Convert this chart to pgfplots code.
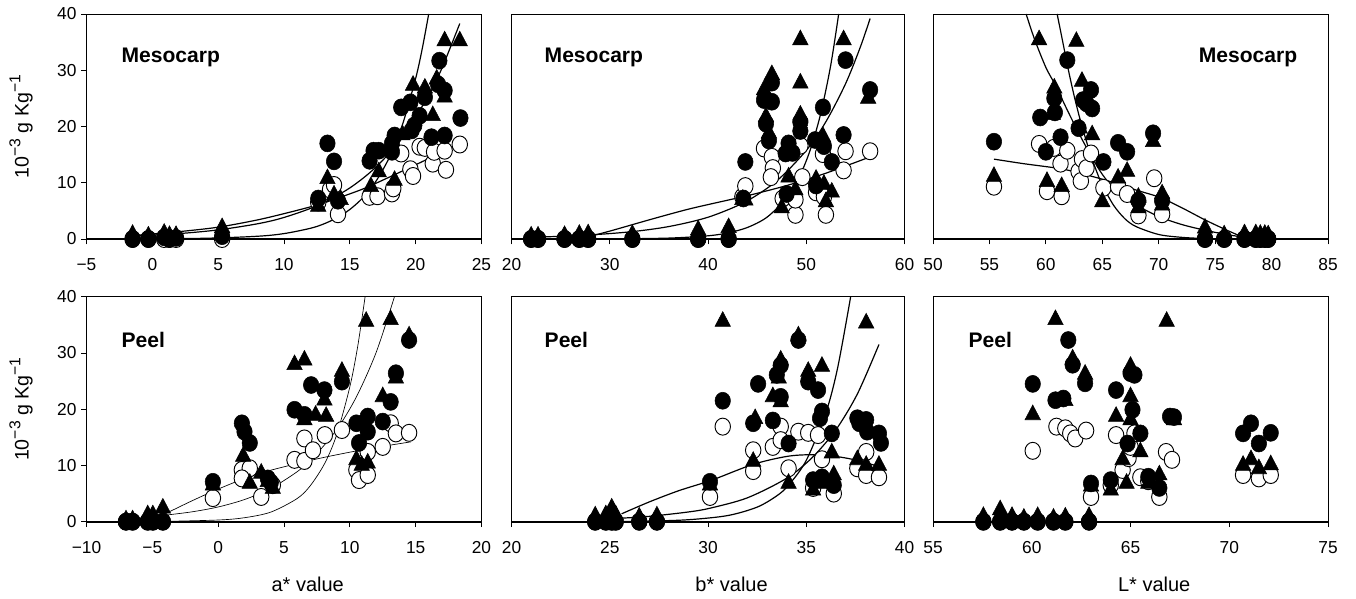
\documentclass[border=0pt]{standalone}
\usepackage{fontspec}
\setmainfont{Liberation Sans}
\usepackage{pgfplots}
\pgfplotsset{compat=1.18}

\newcommand{\sups}[1]{\raisebox{0.42em}{\fontsize{11.8}{12}\selectfont #1}}
\pgfplotsset{
  panel/.style={
    scale only axis, height=168.75pt, ymin=0, ymax=40,
    clip=false,
    axis line style={black, line width=0.6pt},
    tick align=outside, xtick pos=left, ytick pos=left,
    major tick length=4pt, tick style={black, line width=0.6pt},
    ticklabel style={font=\fontsize{13}{15}\selectfont},
    /pgf/number format/assume math mode=true,
    xticklabel style={yshift=-7pt},
    ytick=\empty,
    xlabel style={at={(axis description cs:0.56,-0.28)}, anchor=center, font=\fontsize{15}{17}\selectfont},
  },
  firstcol/.style={
    ytick={0,10,20,30,40}, yticklabels={0,10,20,30,40},
    ylabel={10\sups{−3} g Kg\sups{−1}},
    ylabel style={at={(axis description cs:-0.166,0.5)}, anchor=center, font=\fontsize{14.7}{16}\selectfont},
  },
  opn/.style={only marks, mark=*, mark size=5.8pt, mark options={fill=white, draw=black, line width=0.7pt, yscale=1.1}},
  fil/.style={only marks, mark=*, mark size=5.8pt, mark options={fill=black, draw=black, yscale=1.1}},
  tri/.style={only marks, mark=triangle*, mark size=6.7pt, mark options={fill=black, draw=black, yscale=1.1}},
  fit/.style={no marks, smooth, black, line width=0.9pt},
}
\newcommand{\paneltitle}[3]{\node[anchor=#3, font=\bfseries\fontsize{15.8}{17}\selectfont] at (rel axis cs:#1,0.809) {#2};}
\newcommand{\zeroline}{\draw[black, line width=1.6pt] (rel axis cs:0,0) -- (rel axis cs:1,0);}

\begin{document}
\begin{tikzpicture}
\path (0,0) rectangle (1017pt,-449.25pt);

% ---------- top row: mesocarp ----------
\begin{axis}[panel, firstcol, at={(64.875pt,-179.25pt)}, anchor=south west, width=296.25pt,
  xmin=-5, xmax=25, xtick={-5,0,5,10,15,20,25}, xticklabels={−5,0,5,10,15,20,25}]
\addplot[opn] coordinates {(-1.5,0)(-0.3,0)(0.9,0)(1.3,0)(1.8,0)(5.3,0)
 (12.6,6.5)(13.5,8.8)(13.8,9.6)(14.1,4.4)(16.5,7.5)(17.1,7.6)(18.2,8.1)(18.3,9.0)(18.9,15.2)
 (19.6,12.4)(19.8,11.2)(20.3,16.4)(20.7,16.2)(21.3,13.4)(21.4,15.5)(22.2,15.7)(22.3,12.3)(23.35,16.8)};
\addplot[fil] coordinates {(-1.5,0)(-0.3,0)(0.9,0.3)(1.3,0)(1.8,0.2)(5.3,0.5)
 (12.6,7.2)(13.3,17.0)(13.8,13.8)(14.1,6.8)(16.5,13.9)(16.8,15.7)(17.2,15.7)(18.2,15.5)(18.2,17.0)(18.4,18.4)
 (18.9,23.4)(19.6,24.3)(19.7,19.3)(19.9,20.2)(20.3,21.9)(20.7,25.2)(21.2,18.1)(21.7,27.5)(21.8,31.7)(22.2,18.4)(22.2,26.4)(23.4,21.5)};
\addplot[tri] coordinates {(-1.5,0.8)(-0.3,0.5)(0.9,1.0)(1.3,0.6)(1.8,0.6)(5.3,2.0)
 (12.6,5.8)(13.3,10.7)(13.8,7.8)(14.3,7.0)(16.6,9.3)(17.2,11.9)(18.4,10.4)(19.0,18.5)(19.8,27.3)
 (20.7,26.8)(21.3,21.9)(21.6,28.4)(22.2,25.2)(22.2,35.2)(23.35,35.2)};
\addplot[fit] coordinates {(-1.5,0.02)(4,0.13)(8,0.49)(10,0.96)(12,1.90)(13,2.66)(14,3.74)(15,5.25)(16,7.36)(17,10.33)(18,14.5)(19,20.35)(20,28.56)(20.5,33.84)(20.99,40)};
\addplot[fit] coordinates {(-1.5,0.53)(2,0.96)(5,1.62)(8,2.71)(10,3.83)(12.6,6)(15,9.08)(17,12.82)(19,18.1)(21,25.6)(22,30.4)(23.35,38.3)};
\addplot[fit] coordinates {(-1.5,0.6)(0,0.9)(2,1.3)(5,2.1)(8,3.4)(10.5,4.8)(12.6,6.1)(14,7.2)(16,8.9)(18,11.0)(20,13.2)(22,15.4)(23.35,16.8)};
\zeroline
\paneltitle{0.077}{Mesocarp}{west}
\end{axis}

\begin{axis}[panel, at={(383.625pt,-179.25pt)}, anchor=south west, width=294.75pt,
  xmin=20, xmax=60, xtick={20,30,40,50,60}, xticklabels={20,30,40,50,60}]
\addplot[opn] coordinates {(22.0,0)(22.7,0)(25.4,0)(26.9,0)(27.8,0)(32.3,0)(39.0,0)(42.1,0)
 (43.5,7.5)(43.8,9.4)(45.7,16.1)(46.5,14.6)(46.6,12.6)(46.4,11.0)(47.6,7.2)(48.9,4.3)(48.9,7.0)(49.4,16.6)(49.6,11.0)
 (51.0,8.3)(51.7,15.1)(51.8,7.5)(52.0,4.3)(54.0,15.6)(53.8,12.2)(56.5,15.6)};
\addplot[fil] coordinates {(22.0,0)(22.7,0)(25.4,0)(26.9,0)(27.8,0)(32.3,0)(39.0,0)(42.1,0)
 (43.8,13.7)(43.6,7.2)(45.7,24.7)(46.5,27.8)(46.5,24.4)(45.9,20.5)(46.2,17.5)(48.2,17.0)(47.9,15.2)(48.6,15.3)(49.4,20.8)(49.4,19.2)(48.0,8.0)
 (51.7,23.4)(50.9,17.6)(51.8,16.5)(52.6,13.7)(51.0,9.5)(54.0,31.8)(53.8,18.5)(56.5,26.5)};
\addplot[tri] coordinates {(22.0,0.5)(22.7,0.5)(25.4,0.6)(26.9,0.8)(27.8,0.9)(32.3,0.8)(39.0,1.6)(42.1,2.0)
 (43.8,6.9)(43.5,7.0)(45.7,26.5)(46.5,29.2)(45.9,21.7)(46.2,18.8)(48.2,11.0)(47.5,5.5)(48.9,8.7)
 (49.4,35.4)(49.4,27.7)(49.4,22.0)(51.7,18.2)(51.0,10.6)(51.8,9.7)(52.6,8.3)(52.0,6.6)(53.8,35.4)(56.3,25.0)};
\addplot[fit] coordinates {(22,0)(30,0.02)(36,0.16)(40,0.57)(42,1.08)(44,2.04)(46,3.87)(48,7.34)(49.5,11.86)(50.5,16.33)(51.5,22.5)(52.5,30.97)(53.3,40)};
\addplot[fit] coordinates {(22,0.31)(27,0.62)(32,1.26)(36,2.21)(40,3.87)(43.8,6.6)(47,10.34)(50,15.75)(52,20.85)(54,27.6)(55.5,34.1)(56.5,39.2)};
\addplot[fit] coordinates {(26.9,0.0)(30,1.4)(34,3.4)(38,5.3)(42,6.9)(43.8,7.6)(48,9.5)(52,11.7)(56.5,14.6)};
\zeroline
\paneltitle{0.0725}{Mesocarp}{west}
\end{axis}

\begin{axis}[panel, at={(699.75pt,-179.25pt)}, anchor=south west, width=296.25pt,
  xmin=50, xmax=85, xtick={50,55,60,65,70,75,80,85}, xticklabels={50,55,60,65,70,75,80,85}]
\addplot[opn] coordinates {(55.4,9.3)(59.4,16.9)(60.1,8.5)(60.7,16.2)(61.3,13.4)(61.4,7.6)(61.9,15.7)
 (62.9,12.0)(63.1,10.3)(63.2,14.2)(63.6,12.6)(64.0,15.2)(65.1,9.1)(66.4,9.3)(67.2,8.0)(68.2,4.2)(69.6,10.8)(70.3,4.4)
 (74.1,0)(75.8,0)(77.6,0)(78.6,0)(79.0,0)(79.4,0)(79.7,0)};
\addplot[fil] coordinates {(55.4,17.3)(59.5,21.6)(60.0,15.5)(60.75,25.0)(60.8,22.5)(61.3,18.1)(61.9,31.8)
 (62.9,19.7)(63.6,24.1)(64.0,26.5)(64.1,23.2)(63.3,24.7)(65.1,13.7)(66.4,17.1)(67.2,15.5)(68.2,6.8)(69.5,18.8)(70.3,6.8)
 (74.1,0)(75.8,0)(77.6,0)(78.6,0)(79.0,0)(79.4,0)(79.7,0)};
\addplot[tri] coordinates {(55.4,11.1)(59.4,35.4)(60.1,10.2)(60.75,26.8)(60.6,22.1)(61.4,9.3)(62.7,35.1)(63.2,28.0)
 (63.0,19.7)(64.1,18.5)(65.0,6.6)(66.4,10.8)(67.2,12.0)(68.2,7.4)(68.2,5.5)(69.5,17.3)(70.3,8.0)(70.3,6.0)
 (74.1,1.9)(75.8,0.7)(77.6,0.9)(78.6,0.9)(79.0,0.8)(79.4,0.8)(79.7,0.7)};
\addplot[fit] coordinates {(58.25,40)(59,35.5)(60,30.5)(60.8,27.5)(62,22.5)(63,18.5)(64,14.8)(65,11.5)(66,9.0)(67,7.3)(68,6.0)(70,4.0)(72,2.6)(74,1.6)(76,0.8)(77.6,0.3)};
\addplot[fit] coordinates {(61,40)(61.5,35)(62,30)(62.5,25.5)(63,21.5)(63.5,18)(64,14.8)(64.5,12)(65,9.6)(66,6.0)(67,3.6)(68,2.2)(70,0.8)(72,0.3)(74,0.1)(77.6,0.0)};
\addplot[fit] coordinates {(55.4,14.2)(58,13.4)(61.3,12.5)(63,11.7)(65.4,10.4)(68,8.7)(70.1,7.4)(72,5.6)(74.1,3.4)(76,1.6)(77.6,0.2)};
\zeroline
\paneltitle{0.934}{Mesocarp}{east}
\end{axis}

% ---------- bottom row: peel ----------
\begin{axis}[panel, firstcol, at={(64.875pt,-391.275pt)}, anchor=south west, width=296.25pt,
  xmin=-10, xmax=20, xtick={-10,-5,0,5,10,15,20}, xticklabels={−10,−5,0,5,10,15,20}, xlabel={a* value}]
\addplot[opn] coordinates {(-7.0,0)(-6.5,0)(-5.35,0)(-4.96,0)(-4.2,0)
 (-0.4,4.2)(1.8,9.2)(2.4,9.5)(1.8,7.7)(3.27,4.4)(4.15,6.5)(6.55,14.8)(5.8,11.0)(6.55,10.8)(7.2,12.7)(8.1,15.4)(9.4,16.3)
 (10.5,9.2)(10.7,7.4)(11.36,12.4)(11.36,8.3)(12.5,13.3)(13.1,17.5)(13.5,15.7)(14.5,15.8)};
\addplot[fil] coordinates {(-7.0,0)(-6.5,0)(-5.35,0)(-4.96,0)(-4.2,0)
 (-0.4,7.1)(1.8,17.5)(2.0,16.0)(2.4,14.0)(3.77,7.7)(4.0,7.0)(5.8,19.9)(6.55,19.0)(7.06,24.3)(8.07,23.4)(9.4,24.9)
 (10.5,17.5)(10.7,14.0)(11.36,18.7)(11.36,16.0)(12.5,17.8)(13.1,21.3)(13.5,26.4)(14.5,32.3)};
\addplot[tri] coordinates {(-7.0,0.3)(-6.5,0.3)(-5.35,1.2)(-4.96,1.2)(-4.2,2.4)
 (-0.4,6.5)(1.9,11.6)(2.4,6.8)(3.27,8.6)(3.77,7.1)(4.15,5.9)(5.8,27.9)(6.55,28.7)(6.55,18.1)(7.4,18.9)(8.07,21.6)(8.2,18.7)(9.4,26.7)
 (10.5,11.0)(10.9,10.0)(11.24,35.6)(11.36,10.4)(12.5,22.2)(13.1,35.9)(13.5,25.5)(14.5,33.0)};
\addplot[fit, line width=0.5pt] coordinates {(-4.2,0.05)(0,0.3)(2,0.71)(4,1.71)(6,4.12)(7,6.41)(8.1,10.4)(9,15.45)(10,23.98)(10.6,31.2)(11.16,40)};
\addplot[fit, line width=0.5pt] coordinates {(-4.2,1.11)(-2,1.75)(0,2.62)(2,3.94)(4,5.92)(6,8.89)(7.18,11.3)(9,16.36)(10.5,22.2)(12,30.1)(13.39,40)};
\addplot[fit, line width=0.5pt] coordinates {(-4.2,1.2)(-2,3.7)(0.1,5.9)(3,8.5)(7.2,11.0)(11,12.8)(14.65,14.2)};
\zeroline
\paneltitle{0.077}{Peel}{west}
\end{axis}

\begin{axis}[panel, at={(383.625pt,-391.275pt)}, anchor=south west, width=294.75pt,
  xmin=20, xmax=40, xtick={20,25,30,35,40}, xticklabels={20,25,30,35,40}, xlabel={b* value}]
\addplot[opn] coordinates {(24.26,0)(24.8,0)(25.1,0)(25.3,0)(26.5,0)(27.4,0)
 (30.1,4.4)(30.75,16.9)(32.3,12.7)(32.3,9.0)(33.3,13.3)(33.7,16.9)(33.7,14.5)(34.1,9.5)(34.6,16.0)(35.1,15.8)(35.35,6.0)(35.6,15.4)(35.8,11.1)(36.4,5.0)
 (37.6,9.5)(38.05,12.4)(38.05,8.3)(38.7,7.9)};
\addplot[fil] coordinates {(24.26,0)(24.8,0)(25.1,0)(25.3,0)(26.5,0)(27.4,0)
 (30.1,7.1)(30.75,21.5)(32.3,17.5)(32.55,24.5)(33.3,18.0)(33.5,26.1)(33.7,27.8)(33.7,22.2)(34.1,13.9)(34.6,32.3)(35.1,24.9)(35.35,7.4)(35.6,23.4)(35.8,19.6)(35.7,18.4)(35.8,7.9)(36.3,15.7)(36.4,6.5)
 (37.6,18.4)(37.7,17.5)(38.05,18.1)(38.1,16.0)(38.7,15.7)(38.8,14.0)};
\addplot[tri] coordinates {(24.26,1.0)(24.8,1.2)(25.1,2.4)(25.3,1.2)(26.5,0.8)(27.4,1.0)
 (30.1,6.5)(30.75,35.6)(32.3,10.7)(32.4,18.3)(33.3,22.2)(33.6,25.5)(33.7,28.7)(33.7,21.3)(34.1,6.8)(34.6,33.0)(35.1,26.7)(35.35,5.6)(35.8,27.6)(35.8,6.8)(36.3,12.2)(36.4,8.3)
 (37.6,11.0)(38.05,35.3)(38.05,10.0)(38.7,10.0)};
\addplot[fit] coordinates {(25.3,0.04)(27,0.11)(29,0.35)(31,1.09)(32.5,2.59)(33.5,4.60)(34.1,6.5)(35,10.9)(36,19.4)(36.6,27.4)(37.26,40)};
\addplot[fit] coordinates {(25.3,0.57)(27,0.95)(29,1.73)(30.1,2.4)(32,4.24)(34,7.72)(35.3,11.39)(36.5,16.3)(37.6,22.7)(38.7,31.5)};
\addplot[fit] coordinates {(25.6,1.4)(27,3.5)(28.5,5.5)(30.2,7.4)(32.3,10.2)(34,11.6)(35.2,11.9)(36.5,11.6)(37.6,10.9)(38.7,9.8)};
\zeroline
\paneltitle{0.0725}{Peel}{west}
\end{axis}

\begin{axis}[panel, at={(699.75pt,-391.275pt)}, anchor=south west, width=296.25pt,
  xmin=55, xmax=75, xtick={55,60,65,70,75}, xticklabels={55,60,65,70,75}, xlabel={L* value}]
\addplot[opn] coordinates {(57.55,0)(58.4,0)(59.0,0)(59.6,0)(60.3,0)(61.1,0)(61.7,0)(62.9,0)
 (60.05,12.6)(61.25,16.9)(61.7,16.6)(61.95,15.7)(62.2,14.8)(62.75,16.2)
 (63.0,4.4)(64.0,6.5)(64.27,15.4)(64.6,9.2)(64.9,11.3)(65.0,13.3)(65.2,15.7)(65.5,7.9)(65.9,7.2)(66.46,4.4)(66.8,12.4)(67.1,11.0)
 (70.7,8.3)(71.5,7.7)(72.1,8.3)};
\addplot[fil] coordinates {(57.55,0)(58.4,0)(59.0,0)(59.6,0)(60.3,0)(61.1,0)(61.7,0)(62.9,0)
 (60.05,24.5)(61.2,21.6)(61.6,21.9)(61.85,32.3)(62.07,27.9)(62.7,24.6)
 (63.0,6.8)(64.0,7.4)(64.27,23.4)(64.85,13.9)(65.0,26.4)(65.1,19.9)(65.2,26.1)(65.5,15.7)(65.9,8.0)(66.46,6.0)(67.0,18.7)(67.2,18.6)
 (70.7,15.7)(71.1,17.5)(71.5,13.9)(72.1,15.8)};
\addplot[tri] coordinates {(57.55,0.9)(58.4,2.1)(59.0,0.9)(59.6,0.6)(60.3,0.9)(61.1,0.6)(61.7,0.8)(62.9,0.9)
 (60.05,19.0)(61.2,35.9)(61.7,21.5)(62.07,28.9)(62.7,26.2)
 (63.0,6.3)(64.0,5.6)(64.27,18.7)(64.6,11.0)(64.8,6.8)(65.0,27.6)(65.0,22.2)(65.0,18.1)(65.5,12.4)(65.9,6.8)(66.46,8.3)(66.83,35.6)(67.2,18.1)
 (70.7,10.0)(71.1,11.0)(71.5,9.4)(72.1,10.1)};
\zeroline
\paneltitle{0.078}{Peel}{west}
\end{axis}
\end{tikzpicture}
\end{document}
